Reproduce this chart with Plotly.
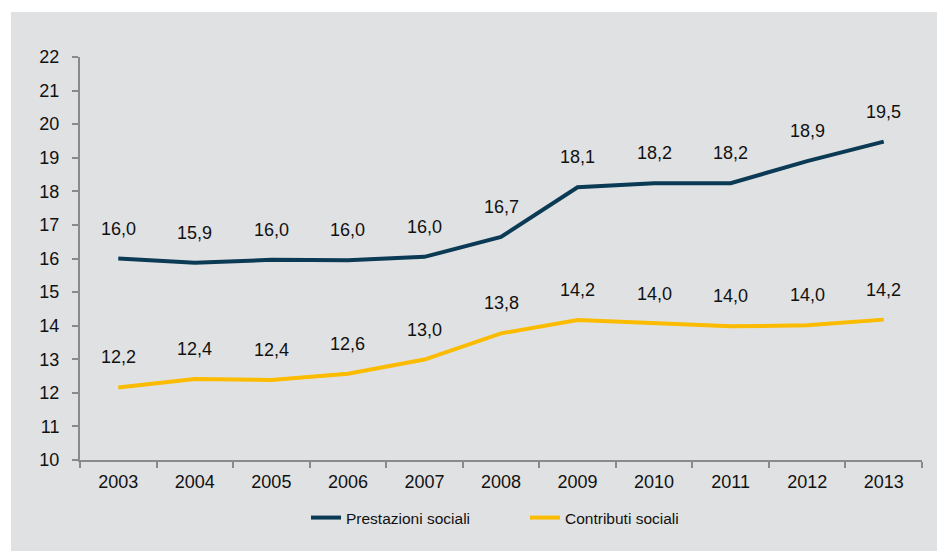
import plotly.graph_objects as go

years = ["2003", "2004", "2005", "2006", "2007", "2008", "2009", "2010", "2011", "2012", "2013"]
prestazioni = [16.0, 15.87, 15.96, 15.95, 16.05, 16.64, 18.12, 18.24, 18.24, 18.9, 19.48]
prestazioni_labels = ["16,0", "15,9", "16,0", "16,0", "16,0", "16,7", "18,1", "18,2", "18,2", "18,9", "19,5"]
contributi = [12.16, 12.41, 12.38, 12.57, 12.99, 13.77, 14.17, 14.06, 13.98, 14.01, 14.18]
contributi_labels = ["12,2", "12,4", "12,4", "12,6", "13,0", "13,8", "14,2", "14,0", "14,0", "14,0", "14,2"]

NAVY = "#0b3a54"
YELLOW = "#fbbb00"
BG = "#e0e1e3"
AXIS = "#8a8a8a"
FONT = "Liberation Sans, Arial, sans-serif"

# the page body adds 8px, so the figure is drawn 8px smaller
W, H = 937, 543
L, R, T, B = 72, 23, 49, 91
pw, ph = W - L - R, H - T - B

fig = go.Figure()
fig.add_trace(go.Scatter(x=years, y=prestazioni, mode="lines", name="Prestazioni sociali",
                         line=dict(color=NAVY, width=4)))
fig.add_trace(go.Scatter(x=years, y=contributi, mode="lines", name="Contributi sociali",
                         line=dict(color=YELLOW, width=4)))

# data labels above each point (category index, since the years look numeric)
for vals, labels in [(prestazioni, prestazioni_labels), (contributi, contributi_labels)]:
    for i, (y, t) in enumerate(zip(vals, labels)):
        fig.add_annotation(x=i, y=y, text=t, showarrow=False, yshift=30,
                           font=dict(size=18, color="#111111", family=FONT))

# white strips at top and left, outside the grey panel
fig.add_shape(type="rect", xref="paper", yref="paper", x0=-0.2, x1=1.2,
              y0=(ph + T - 4) / ph, y1=1.5, fillcolor="white", line_width=0, layer="above")
fig.add_shape(type="rect", xref="paper", yref="paper", x0=-0.2, x1=-(L - 3) / pw,
              y0=-0.5, y1=1.5, fillcolor="white", line_width=0, layer="above")

fig.update_layout(
    width=W, height=H,
    margin=dict(l=L, r=R, t=T, b=B),
    paper_bgcolor=BG, plot_bgcolor=BG,
    font=dict(family=FONT, size=18, color="#111111"),
    showlegend=True,
    legend=dict(orientation="h", x=(306 - 80) / pw, xanchor="left", y=-58 / ph, yanchor="middle",
                entrywidth=174, font=dict(size=15.5), bgcolor="rgba(0,0,0,0)"),
    xaxis=dict(type="category", showgrid=False, showline=True, linecolor=AXIS, linewidth=2,
               ticks="outside", tickson="boundaries", ticklen=6, tickcolor=AXIS, tickwidth=2,
               ticklabelstandoff=4, range=[-0.5, 10.5]),
    yaxis=dict(range=[10, 22], dtick=1, showgrid=False, showline=True, linecolor=AXIS,
               linewidth=2, ticks="outside", ticklen=6, tickcolor=AXIS, tickwidth=1.5,
               ticklabelstandoff=9, zeroline=False),
)

fig.write_html("out.html")
